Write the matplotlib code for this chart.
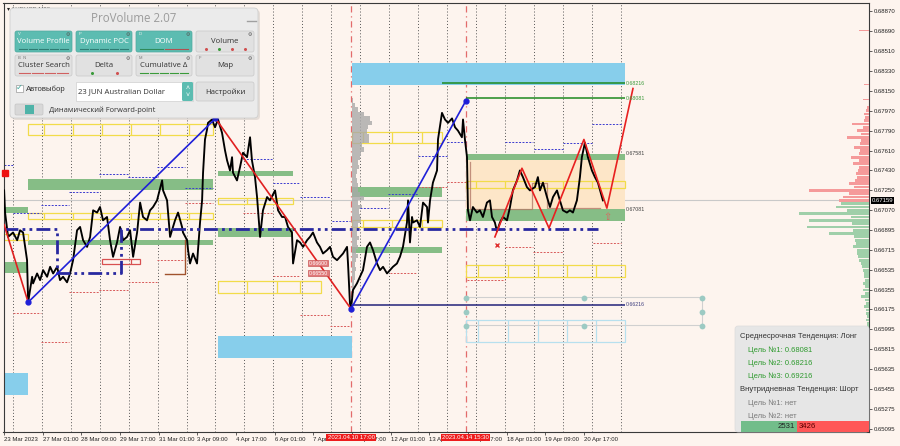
#!/usr/bin/env python
# -*- coding: utf-8 -*-
"""
AUDUSD M30 with ProVolume overlay - static snapshot
"""
import numpy as np
import matplotlib
matplotlib.use('Agg')
import matplotlib.pyplot as plt
from matplotlib.patches import Rectangle, FancyBboxPatch

plt.rcParams['font.family'] = ['Liberation Sans', 'DejaVu Sans']

# ------------------ Data ------------------
# x = trading hours since 23 Mar 2023 17:00 (M30 bars), y = price
price_path = [
    (0.0, 0.6725), (0.8, 0.6705), (3.3, 0.6683), (7.4, 0.6687), (10.8, 0.6680), (13.2, 0.6689),
    (15.7, 0.6687), (17.4, 0.6674), (19.0, 0.6662), (19.9, 0.6624), (23.2, 0.6647), (24.0, 0.6641),
    (27.3, 0.6650), (29.8, 0.6644), (32.3, 0.6653), (35.6, 0.6647), (38.1, 0.6656), (40.6, 0.6650),
    (43.9, 0.6656), (46.3, 0.6644), (48.8, 0.6647), (52.1, 0.6642), (54.6, 0.6650), (57.1, 0.6662),
    (60.4, 0.6689), (62.9, 0.6692), (65.4, 0.6680), (68.7, 0.6674), (71.2, 0.6683), (73.7, 0.6707),
    (77.0, 0.6705), (79.4, 0.6710), (81.9, 0.6698), (85.2, 0.6701), (87.7, 0.6680), (90.2, 0.6665),
    (93.5, 0.6678), (96.0, 0.6692), (98.5, 0.6680), (101.8, 0.6683), (104.3, 0.6689), (106.8, 0.6665),
    (110.1, 0.6687), (112.6, 0.6714), (115.0, 0.6701), (118.3, 0.6698), (120.8, 0.6707), (123.3, 0.6710),
    (126.6, 0.6716), (130.8, 0.6734), (131.6, 0.6725), (134.9, 0.6716), (137.4, 0.6683), (139.0, 0.6689),
    (141.5, 0.6698), (144.0, 0.6705), (147.3, 0.6692), (148.1, 0.6687), (151.5, 0.6680), (152.3, 0.6671),
    (153.9, 0.6659), (156.4, 0.6668), (159.7, 0.6659), (162.2, 0.6696), (163.9, 0.6716), (164.7, 0.6741),
    (166.3, 0.6771), (168.0, 0.6780), (168.8, 0.6786), (172.1, 0.6789), (174.6, 0.6782), (177.1, 0.6789),
    (180.4, 0.6777), (182.9, 0.6761), (184.6, 0.6752), (187.0, 0.6743), (188.7, 0.6755), (189.5, 0.6741),
    (192.8, 0.6734), (195.3, 0.6746), (197.8, 0.6759), (201.1, 0.6755), (203.6, 0.6773), (205.2, 0.6752),
    (207.7, 0.6737), (209.4, 0.6719), (211.9, 0.6683), (214.3, 0.6707), (217.7, 0.6719), (220.1, 0.6716),
    (224.3, 0.6725), (226.8, 0.6707), (230.1, 0.6701), (232.6, 0.6701), (235.0, 0.6692), (238.3, 0.6687),
    (239.2, 0.6659), (242.5, 0.6680), (245.0, 0.6678), (247.5, 0.6674), (250.8, 0.6680), (253.2, 0.6683),
    (255.7, 0.6687), (259.0, 0.6678), (261.5, 0.6674), (264.0, 0.6668), (267.3, 0.6671), (269.8, 0.6674),
    (272.3, 0.6665), (275.6, 0.6662), (278.1, 0.6665), (280.6, 0.6668), (283.9, 0.6674), (284.7, 0.6659),
    (286.3, 0.6623), (287.2, 0.6618), (288.8, 0.6635), (292.1, 0.6641), (294.6, 0.6647), (297.1, 0.6653),
    (300.4, 0.6674), (302.9, 0.6678), (305.4, 0.6671), (308.7, 0.6659), (311.2, 0.6653), (313.7, 0.6656),
    (317.0, 0.6650), (319.5, 0.6653), (321.9, 0.6656), (325.2, 0.6659), (327.7, 0.6665), (330.2, 0.6674),
    (333.5, 0.6696), (334.4, 0.6716), (336.0, 0.6678), (337.7, 0.6701), (338.5, 0.6696), (341.8, 0.6698),
    (344.3, 0.6692), (346.8, 0.6714), (350.1, 0.6710), (350.9, 0.6696), (352.6, 0.6716), (355.0, 0.6732),
    (358.4, 0.6743), (359.2, 0.6771), (362.5, 0.6795), (365.0, 0.6789), (367.5, 0.6786), (370.8, 0.6790),
    (373.3, 0.6782), (375.7, 0.6779), (379.0, 0.6773), (379.9, 0.6789), (381.5, 0.6771), (383.2, 0.6755),
    (384.0, 0.6707), (385.7, 0.6698), (388.1, 0.6710), (391.4, 0.6705), (393.9, 0.6707), (396.4, 0.6701),
    (399.7, 0.6714), (402.2, 0.6716), (403.9, 0.6701), (406.3, 0.6696), (408.0, 0.6688), (410.5, 0.6696),
    (413.0, 0.6701), (416.3, 0.6698), (418.8, 0.6710), (421.2, 0.6725), (424.6, 0.6734), (427.0, 0.6743),
    (429.5, 0.6737), (432.8, 0.6728), (435.3, 0.6725), (439.5, 0.6728), (441.9, 0.6737), (443.6, 0.6725),
    (446.1, 0.6732), (449.4, 0.6719), (451.9, 0.6710), (454.4, 0.6719), (457.7, 0.6725), (460.1, 0.6716),
    (462.6, 0.6707), (465.9, 0.6705), (468.4, 0.6707), (470.9, 0.6705), (474.2, 0.6716), (476.7, 0.6737),
    (478.3, 0.6755), (480.8, 0.6768), (483.3, 0.6755), (486.6, 0.6743), (489.1, 0.6737), (491.6, 0.6732),
    (494.9, 0.6719), (495.7, 0.6716),
]
last_price = 0.67159

tick_h = [0, 32, 64, 96, 128, 160, 192, 224, 256, 288, 320, 352, 384, 416, 448, 480]
tick_lab = ['23 Mar 2023', '27 Mar 01:00', '28 Mar 09:00', '29 Mar 17:00', '31 Mar 01:00',
            '3 Apr 09:00', '4 Apr 17:00', '6 Apr 01:00', '7 Apr 09:00', '10 Apr 17:00',
            '12 Apr 01:00', '13 Apr 09:00', '14 Apr 17:00', '18 Apr 01:00', '19 Apr 09:00',
            '20 Apr 17:00']
price_ticks = [0.68870, 0.68690, 0.68510, 0.68330, 0.68150, 0.67970, 0.67790, 0.67610,
               0.67430, 0.67250, 0.67070, 0.66895, 0.66715, 0.66535, 0.66355, 0.66175,
               0.65995, 0.65815, 0.65635, 0.65455, 0.65275, 0.65095]
marked_h = [287.2, 382.3]
marked_lab = ['2023.04.10 17:00', '2023.04.14 15:30']

# zigzag
zz_up = [[(19.9, 0.6624), (175.0, 0.6790)], [(287.2, 0.6618), (382.3, 0.6806)]]
zz_down = [[(0.0, 0.6694), (19.9, 0.6624)], [(175.0, 0.6790), (287.2, 0.6618)]]
forecast = [(406.3, 0.6683), (428.7, 0.6745), (451.1, 0.6691), (480.0, 0.6771),
            (499.0, 0.6709), (520.6, 0.6817)]

# dynamic POC (step line)
poc_h = [0.0, 43.9, 43.9, 96.8, 96.8, 491.6]
poc_p = [0.6690, 0.6690, 0.6650, 0.6650, 0.6690, 0.6690]

# zones: (start, end, top, bottom)
green_zones = [(19.9, 173.0, 0.67353, 0.67254), (0.0, 19.9, 0.67100, 0.67046),
               (19.9, 173.0, 0.66802, 0.66757), (0.0, 19.9, 0.66603, 0.66504),
               (177.1, 239.2, 0.67425, 0.67380), (177.1, 239.2, 0.66910, 0.66829),
               (288.0, 362.5, 0.67281, 0.67190), (288.0, 362.5, 0.66739, 0.66685),
               (382.3, 513.9, 0.67579, 0.67524), (382.3, 513.9, 0.67081, 0.66974)]
blue_zones = [(288.0, 513.9, 0.68400, 0.68202), (177.1, 288.0, 0.65935, 0.65737),
              (0.0, 19.9, 0.65601, 0.65402)]
peach_zone = (382.3, 513.9, 0.67524, 0.67081)
yellow_boxes = [
    (19.9, 173.0, 0.67850, 0.67750, [33.1, 57.1, 81.1, 105.1, 129.1, 153.1]),
    (19.9, 173.0, 0.67046, 0.66992, [33.1, 57.1, 105.1, 129.1, 153.1]),
    (0.0, 19.9, 0.66857, 0.66802, []),
    (177.1, 239.2, 0.67181, 0.67127, [201.1, 226.0]),
    (177.1, 262.3, 0.66432, 0.66324, [201.1, 226.0, 245.0]),
    (288.0, 362.5, 0.67777, 0.67678, [297.1, 321.1, 346.0]),
    (288.0, 362.5, 0.66983, 0.66919, [297.1, 321.1, 346.0]),
    (382.3, 513.9, 0.67335, 0.67272, [390.6, 414.6, 438.6, 462.6, 486.6]),
    (382.3, 513.9, 0.66576, 0.66468, [392.4, 417.3, 442.2, 466.1, 490.1]),
]
cyan_box = (382.3, 513.9, 0.66080, 0.65881, [392.4, 417.3, 442.2, 466.1, 490.1])
red_box = (81.1, 112.6, 0.66631, 0.66586, [105.1])

# targets
target_lines = [(362.5, 513.9, 0.68216, '0.68216'), (382.3, 513.9, 0.68081, '0.68081')]
stop_line = (287.2, 513.9, 0.66216, '0.66216')
forward_h = [385.7, 385.7, 437.0, 437.0, 449.4, 449.4, 493.2]
forward_p = [0.6751, 0.6708, 0.6708, 0.6732, 0.6732, 0.6709, 0.6709]

# short level lines: (start, end, price)
blue_levels = [(0, 7.4, 0.67479), (7.4, 30.6, 0.67046), (30.6, 53.8, 0.67118), (53.8, 78.6, 0.67235),
               (78.6, 102.6, 0.67398), (102.6, 126.6, 0.67371), (126.6, 149.8, 0.67461),
               (149.8, 173.0, 0.67272), (197.8, 221.8, 0.67534), (222.6, 245.0, 0.67317),
               (245.0, 269.8, 0.67190), (271.4, 286.3, 0.66974), (294.6, 317.8, 0.67091),
               (317.8, 342.6, 0.67218), (342.6, 366.6, 0.67561), (366.6, 382.3, 0.67687),
               (414.6, 437.8, 0.67687), (438.6, 462.6, 0.67624), (462.6, 486.6, 0.67678),
               (486.6, 511.5, 0.67850)]
red_levels = [(7.4, 30.6, 0.66143), (30.6, 53.8, 0.65881), (53.8, 78.6, 0.66332), (78.6, 102.6, 0.66350),
              (102.6, 126.6, 0.66423), (126.6, 149.8, 0.66622), (149.8, 173.0, 0.67136),
              (197.8, 221.8, 0.67046), (222.6, 245.0, 0.66477), (245.0, 269.8, 0.66125),
              (269.8, 286.3, 0.66026), (319.5, 341.8, 0.66504), (342.6, 366.6, 0.67281),
              (366.6, 382.3, 0.67326), (383.2, 414.6, 0.66441), (414.6, 437.8, 0.66739),
              (437.8, 462.6, 0.66694), (487.5, 510.6, 0.66775)]

# grey level handles
handle_lines = [0.66287, 0.66035]
handle_h = [382.3, 480.0, 577.7]
handle_p = [[0.66278, 0.66152, 0.66026], [0.66278, 0.66026], [0.66278, 0.66152, 0.66026]]

# volume profile of the whole chart (right side)
vp_top, vp_step = 0.6800, 0.0003
vp_vol = [2, 3, 5, 4, 5, 17, 6, 12, 8, 22, 8, 9, 15, 9, 10, 18, 10, 16, 10, 11,
          13, 12, 14, 20, 15, 60, 20, 26, 30, 28, 33, 22, 70, 18, 60, 17, 62, 16, 40, 15,
          14, 13, 16, 12, 12, 11, 10, 8, 7, 6, 5, 5, 4, 6, 4, 6, 4, 8, 4, 3,
          5, 3, 3, 2, 3, 2, 2, 2]
vp_extra_p = [0.6869, 0.6821, 0.6807, 0.6585]
vp_extra_vol = [10, 5, 6, 8]

# session profile from 2023.04.10 17:00
sp_start = 288.0
sp_top, sp_step = 0.6806, 0.0004
sp_vol = [1, 3, 6, 12, 18, 20, 16, 15, 17, 17, 10, 12, 9, 8, 6, 7, 5, 4, 5, 6,
          6, 8, 12, 6, 10, 7, 8, 9, 6, 6, 5, 7, 5, 6, 4, 6, 4, 3, 4, 3,
          3, 2, 2, 2, 1]

# ------------------ Figure ------------------
BG = '#fdf4ee'
fig = plt.figure(figsize=(9, 4.46), dpi=100)
fig.patch.set_facecolor(BG)
ax = fig.add_axes([3.5 / 900, 14 / 446, 865.5 / 900, 429 / 446])
ax.set_facecolor(BG)
ax.set_xlim(-0.5, 716)
ax.set_ylim(0.650683, 0.689422)

for h in np.arange(7, 520, 24):
    ax.axvline(h, color='#555555', lw=0.7, ls=(0, (1, 2.2)), zorder=1)
for h in marked_h:
    ax.axvline(h, color='#e36b6b', lw=0.9, ls=(0, (5, 3, 1, 3)), zorder=1)
ax.axhline(last_price, color='#c9c9c9', lw=0.8, zorder=1)

# zones
x0, x1, pt, pb = peach_zone
ax.fill_between([x0, x1], pb, pt, color='#fde6c8', lw=0, zorder=1.2)
for x0, x1, pt, pb in green_zones:
    ax.fill_between([x0, x1], pb, pt, color='#86bd86', lw=0, zorder=1.5)
for x0, x1, pt, pb in blue_zones:
    ax.fill_between([x0, x1], pb, pt, color='#87ceeb', lw=0, zorder=1.5)


def box_row(x0, x1, pt, pb, divs, color, lw=0.9):
    ax.add_patch(Rectangle((x0, pb), x1 - x0, pt - pb, fill=False, ec=color, lw=lw, zorder=1.6))
    if divs:
        ax.vlines(divs, pb, pt, colors=color, lw=lw, zorder=1.6)


for b in yellow_boxes:
    box_row(*b, color='#f2dc4a')
box_row(*cyan_box, color='#b7e0ee')
box_row(*red_box, color='#d85050')

# session volume profile (grey)
sp_p = sp_top - sp_step * np.arange(len(sp_vol))
ax.barh(sp_p, np.array(sp_vol) * 0.83, left=sp_start, height=sp_step,
        color='#a9a9a9', alpha=0.8, lw=0, zorder=1.7)

# short level lines
for x0, x1, p in blue_levels:
    ax.hlines(p, x0, x1, colors='#3a3ad0', lw=0.7, ls=(0, (2, 1.5)), zorder=1.8)
for x0, x1, p in red_levels:
    ax.hlines(p, x0, x1, colors='#d85a5a', lw=0.7, ls=(0, (2, 1.5)), zorder=1.8)

# handles
for p in handle_lines:
    ax.hlines(p, handle_h[0], handle_h[-1], colors='#d0d0d0', lw=0.8, zorder=1.8)
ax.vlines(handle_h[-1], handle_p[-1][-1], handle_p[-1][0], colors='#d0d0d0', lw=0.8, zorder=1.8)
for h, ps in zip(handle_h, handle_p):
    ax.plot([h] * len(ps), ps, 'o', ms=4.2, color='#9ccac3', mec='none', zorder=1.9)

# forward-point line and old level
ax.plot(forward_h, forward_p, color='#b47a68', lw=0.9, alpha=0.8, zorder=1.9)
ax.plot([133.2, 149.8, 149.8], [0.66495, 0.66495, 0.66802], color='#a0522d', lw=1.0, zorder=1.9)

# price
ph, pp = zip(*price_path)
ax.plot(ph, pp, color='black', lw=1.35, zorder=3)

# POC
ax.plot(poc_h, poc_p, color='#2828a0', lw=2.0, ls=(0, (5, 1.5, 1, 1.5, 1, 1.5)), zorder=3.2)

# targets
for x0, x1, p, lab in target_lines:
    ax.hlines(p, x0, x1, colors='#1f8a1f', lw=1.1, zorder=3.1)
    ax.text(x1 + 1, p, lab, fontsize=3.8, color='#3a9a3a', va='center', zorder=4)
x0, x1, p, lab = stop_line
ax.hlines(p, x0, x1, colors='#23237a', lw=1.1, zorder=3.1)
ax.text(x1 + 1, p, lab, fontsize=3.8, color='#404080', va='center', zorder=4)
ax.text(515, 0.67579, '0.67581', fontsize=3.8, color='#404040', va='center', zorder=4)
ax.text(515, 0.67081, '0.67081', fontsize=3.8, color='#404040', va='center', zorder=4)

# zigzag
for seg in zz_up:
    sx, sy = zip(*seg)
    ax.plot(sx, sy, color='#1f1fd8', lw=1.2, zorder=3.4)
    ax.plot(sx[0], sy[0], 'o', ms=3.5, color='#1f1fd8', zorder=3.5)
    ax.plot(sx[1], sy[1], 'o', ms=3.5, color='#1f1fd8', zorder=3.5)
for seg in zz_down:
    sx, sy = zip(*seg)
    ax.plot(sx, sy, color='#e02020', lw=1.2, zorder=3.3)
fx, fy = zip(*forecast)
ax.plot(fx, fy, color='#e82020', lw=1.2, zorder=3.4)
ax.plot(408.0, 0.6676, 'x', ms=3, mew=1, color='#e03030', zorder=3.5)
ax.text(499.0, 0.6701, '\u21e7', fontsize=7, color='#e06060', ha='center', va='center', zorder=3.5)
ax.plot(0.8, 0.6741, 's', ms=4, color='#ee1111', clip_on=False, zorder=3.5)

# small alert labels
for p, lab in [(0.66594, '0.66600'), (0.66504, '0.66550')]:
    ax.text(252, p, lab, fontsize=3.8, color='white', va='center', zorder=3.6,
            bbox=dict(boxstyle='square,pad=0.15', fc='#e07a7a', ec='#c04040', lw=0.4))

# volume profile on right edge
axv = ax.twiny()
axv.set_xlim(865.5, 0)
axv.set_xticks([])
for s in axv.spines.values():
    s.set_visible(False)
vp_p = vp_top - vp_step * np.arange(len(vp_vol))
vp_col = ['#f59a9a' if p > last_price else '#9fcfa9' for p in vp_p]
axv.barh(vp_p, vp_vol, height=vp_step * 0.85, color=vp_col, lw=0)
axv.barh(vp_extra_p, vp_extra_vol, height=0.00008,
         color=['#f59a9a' if p > last_price else '#9fcfa9' for p in vp_extra_p], lw=0)

# axes styling
for s in ax.spines.values():
    s.set_color('#3a3a3a')
    s.set_linewidth(0.8)
ax.yaxis.tick_right()
ax.set_yticks(price_ticks)
ax.set_yticklabels(['%.5f' % v for v in price_ticks])
ax.tick_params(axis='y', labelsize=4.3, length=2, pad=1.5, colors='#222222', width=0.5)
ax.set_xticks(tick_h)
ax.set_xticklabels(tick_lab)
for t in ax.get_xticklabels():
    t.set_ha('left')
ax.tick_params(axis='x', labelsize=4.3, length=2.5, pad=1.0, colors='#222222', width=0.5)

for h, lab in zip(marked_h, marked_lab):
    ax.text(h, -0.0125, lab, transform=ax.get_xaxis_transform(), ha='center', va='center',
            fontsize=4.3, color='white', clip_on=False, zorder=6,
            bbox=dict(boxstyle='square,pad=0.18', fc='#ee1c1c', ec='none'))
ax.text(1.003, last_price, '%.5f' % last_price, transform=ax.get_yaxis_transform(),
        ha='left', va='center', fontsize=4.3, color='white', clip_on=False, zorder=6,
        bbox=dict(boxstyle='square,pad=0.18', fc='black', ec='none'))
ax.text(0.004, 0.987, '\u25be AUDUSD,M30', transform=ax.transAxes, fontsize=4.3,
        color='#222222', va='center', zorder=2)

# ------------------ UI overlays (pixel space) ------------------
ui = fig.add_axes([0, 0, 1, 1], zorder=10)
ui.set_xlim(0, 900)
ui.set_ylim(446, 0)
ui.axis('off')

ui.add_patch(FancyBboxPatch((12, 10), 248, 110, boxstyle='round,pad=0,rounding_size=4',
                            fc='#00000018', ec='none'))
ui.add_patch(FancyBboxPatch((10, 8), 248, 110, boxstyle='round,pad=0,rounding_size=4',
                            fc='#ebebeb', ec='#cfcfcf', lw=0.6))
ui.text(134, 18.5, 'ProVolume 2.07', ha='center', va='center', fontsize=8.3,
        color='#9b9b9b', family=['Open Sans', 'DejaVu Sans'])
ui.plot([247, 256], [21, 21], color='#a0a0a0', lw=1.0)


def button(x, y, w, h, label, active, key, marks):
    fc = '#5cbcb1' if active else '#e1e1e1'
    ec = '#4ea99f' if active else '#c8c8c8'
    ui.add_patch(FancyBboxPatch((x, y), w, h, boxstyle='round,pad=0,rounding_size=2',
                                fc=fc, ec=ec, lw=0.5))
    tc = 'white' if active else '#333333'
    ui.text(x + w / 2, y + h * 0.48, label, ha='center', va='center', fontsize=5.6, color=tc,
            family=['Open Sans', 'DejaVu Sans'])
    ui.text(x + 2.5, y + 3, key, fontsize=3.0, color='#f0f0f0' if active else '#777777', va='center')
    ui.text(x + w - 4, y + 3.2, '\u2699', fontsize=3.5, color='#555555', ha='center', va='center')
    if marks:
        n = len(marks)
        seg = (w - 6) / n
        for i, c in enumerate(marks):
            xs = x + 3 + i * seg
            if active or c[1] == '-':
                ui.plot([xs + 1, xs + seg - 1], [y + h - 3, y + h - 3], color=c[0], lw=0.8)
            else:
                ui.plot(xs + seg / 2, y + h - 3, 'o', ms=1.2, color=c[0])


dk = ('#2f7d74', '-')
button(15, 31, 57, 21, 'Volume Profile', True, 'V', [dk] * 5)
button(76, 31, 56, 21, 'Dynamic POC', True, 'P', [dk] * 5)
button(136, 31, 56, 21, 'DOM', True, 'D', [('#2f8a5a', '-'), ('#b05050', '-')])
button(196, 31, 58, 21, 'Volume', False, '',
       [('#d05050', '.'), ('#3a9a3a', '.'), ('#d05050', '.'), ('#d05050', '.')])
button(15, 55, 57, 21, 'Cluster Search', False, 'B  N', [('#d06060', '-')] * 4)
button(76, 55, 56, 21, 'Delta', False, '', [('#3a9a3a', '.'), ('#d05050', '.')])
button(136, 55, 56, 21, 'Cumulative \u0394', False, 'M', [('#3a9a3a', '-')] * 5)
button(196, 55, 58, 21, 'Map', False, 'F', [])

ui.add_patch(Rectangle((16, 85), 7, 7, fc='white', ec='#9a9a9a', lw=0.5))
ui.text(19.5, 88, '\u2713', fontsize=6, color='#3fa89c', ha='center', va='center')
ui.text(26, 89.5, 'Автовыбор', fontsize=5.6, color='#333333', va='center')
ui.add_patch(Rectangle((76, 82), 117, 19, fc='white', ec='#cfcfcf', lw=0.5))
ui.text(78.5, 92, '23 JUN Australian Dollar', fontsize=5.6, color='#333333', va='center',
        family=['Open Sans', 'DejaVu Sans'])
ui.add_patch(FancyBboxPatch((182, 82), 11, 19, boxstyle='round,pad=0,rounding_size=1.5',
                            fc='#5cbcb1', ec='none'))
ui.text(187.5, 88.5, '\u02c4', fontsize=5, color='white', ha='center', va='center')
ui.text(187.5, 95.5, '\u02c5', fontsize=5, color='white', ha='center', va='center')
ui.add_patch(FancyBboxPatch((196, 82), 58, 19, boxstyle='round,pad=0,rounding_size=2',
                            fc='#e1e1e1', ec='#c8c8c8', lw=0.5))
ui.text(225, 92, 'Настройки', fontsize=5.6, color='#333333', ha='center', va='center',
        family=['Open Sans', 'DejaVu Sans'])
ui.add_patch(FancyBboxPatch((15, 104), 28, 11, boxstyle='round,pad=0,rounding_size=1.5',
                            fc='#d8d8d8', ec='#c4c4c4', lw=0.5))
ui.add_patch(Rectangle((25, 105), 9, 9, fc='#4fb3a8', ec='none'))
ui.text(49, 110, 'Динамический Forward-point', fontsize=5.4, color='#333333', va='center',
        family=['Open Sans', 'DejaVu Sans'])

# trend panel
ui.add_patch(FancyBboxPatch((735, 326), 134, 106, boxstyle='round,pad=0,rounding_size=3',
                            fc='#e6e6e6', ec='#dcdcdc', lw=0.5))
info_lines = [('Среднесрочная Тенденция: Лонг', '#333333', 740),
              ('Цель №1: 0.68081', '#2e9a2e', 748),
              ('Цель №2: 0.68216', '#2e9a2e', 748),
              ('Цель №3: 0.69216', '#2e9a2e', 748),
              ('Внутридневная Тенденция: Шорт', '#333333', 740),
              ('Цель №1: нет', '#7a7a7a', 748),
              ('Цель №2: нет', '#7a7a7a', 748)]
for i, (txt, c, x) in enumerate(info_lines):
    ui.text(x, 337 + i * 13.2, txt, fontsize=5.5, color=c, va='center')
buy_vol, sell_vol = 2531, 3426
ui.add_patch(Rectangle((741, 421), 56, 11, fc='#72bd8a', ec='none'))
ui.add_patch(Rectangle((797, 421), 72, 11, fc='#ff5757', ec='none'))
ui.text(795, 426.5, str(buy_vol), fontsize=5.6, color='#222222', ha='right', va='center')
ui.text(799, 426.5, str(sell_vol), fontsize=5.6, color='#5a0000', ha='left', va='center')

fig.savefig('out.png', dpi=100, facecolor=fig.get_facecolor())
